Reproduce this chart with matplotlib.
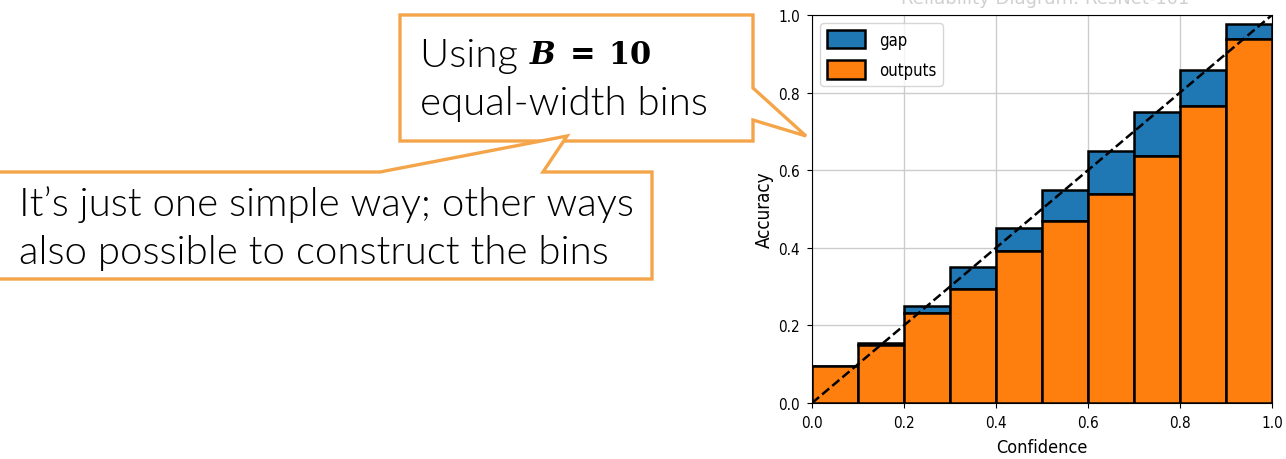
import matplotlib
matplotlib.use("Agg")
import matplotlib.pyplot as plt
from matplotlib.patches import Polygon
import numpy as np

# bin data
bin_edges = [0.0, 0.1, 0.2, 0.3, 0.4, 0.5, 0.6, 0.7, 0.8, 0.9]
accuracy = [0.095, 0.150, 0.231, 0.294, 0.393, 0.468, 0.539, 0.637, 0.765, 0.937]
confidence = [0.050, 0.155, 0.251, 0.350, 0.451, 0.550, 0.649, 0.750, 0.858, 0.976]
ticks = [0.0, 0.2, 0.4, 0.6, 0.8, 1.0]

note1_line1 = "Using "
note1_math = r"$\mathbfit{B}\;\mathbf{=}\;\mathbf{10}$"
note1_line2 = "equal-width bins"
note2_lines = ["It\u2019s just one simple way; other ways",
               "also possible to construct the bins"]

W, H = 1286, 460
fig = plt.figure(figsize=(W / 100, H / 100), dpi=100)


def px(x, y):
    # pixel coords (origin top-left) -> figure fraction
    return (x / W, 1 - y / H)


ax = fig.add_axes([812 / W, (H - 404) / H, 460 / W, 388 / H])
gap = np.array(confidence) - np.array(accuracy)
ax.bar(bin_edges, gap, bottom=accuracy, width=0.1, align="edge",
       color="#1f77b4", edgecolor="black", linewidth=1.8, label="gap", zorder=2)
ax.bar(bin_edges, accuracy, width=0.1, align="edge",
       color="#ff7f0e", edgecolor="black", linewidth=1.8, label="outputs", zorder=3)
ax.plot([0, 1], [0, 1], "--", color="black", linewidth=1.8, zorder=4)
ax.set_xlim(0, 1)
ax.set_ylim(0, 1)
ax.set_xticks(ticks)
ax.set_yticks(ticks)
ax.tick_params(labelsize=11, pad=5)
for lab in ax.get_xticklabels() + ax.get_yticklabels():
    lab.set_fontstretch("condensed")
ax.grid(True, color="#cccccc", linewidth=1, zorder=0)
ax.set_axisbelow(True)
ax.set_xlabel("Confidence", fontsize=13, labelpad=6, fontstretch="condensed")
ax.set_ylabel("Accuracy", fontsize=13.5, labelpad=3, fontstretch="condensed")
leg = ax.legend(loc="upper left", fontsize=12, handlelength=2.3, handleheight=1.3,
                labelspacing=0.7, borderaxespad=0.5)
for txt in leg.get_texts():
    txt.set_fontstretch("condensed")

# faded title, mostly cut off at the top edge
fig.text(*px(1045, -1), "Reliability Diagram: ResNet-101", ha="center", va="center",
         fontsize=13, color="#d0d0d0")

orange = "#F4A54A"
box1 = [(400, 16), (753, 16), (753, 89), (806, 137), (753, 121), (753, 142), (400, 142)]
box2 = [(-5, 173), (380, 173), (567, 137), (543, 173), (652, 173), (652, 280), (-5, 280)]
for pts, z in [(box1, 5), (box2, 6)]:
    fig.patches.append(Polygon([px(*p) for p in pts], closed=True,
                               transform=fig.transFigure, facecolor="white",
                               edgecolor=orange, linewidth=2.4, zorder=z,
                               joinstyle="miter"))

tfont = dict(family="Lato", weight=300, fontsize=29, color="black", zorder=10)
t = fig.text(*px(420, 56), note1_line1, va="center", **tfont)
fig.canvas.draw()
bb = t.get_window_extent()
fig.text(bb.x1 / W, 1 - 56 / H, note1_math, va="center", fontsize=22,
         math_fontfamily="dejavuserif", color="black", zorder=10)
fig.text(*px(420, 104), note1_line2, va="center", **tfont)
fig.text(*px(19, 205), note2_lines[0], va="center", **tfont)
fig.text(*px(19, 253), note2_lines[1], va="center", **tfont)

fig.savefig("out.png", dpi=100)
